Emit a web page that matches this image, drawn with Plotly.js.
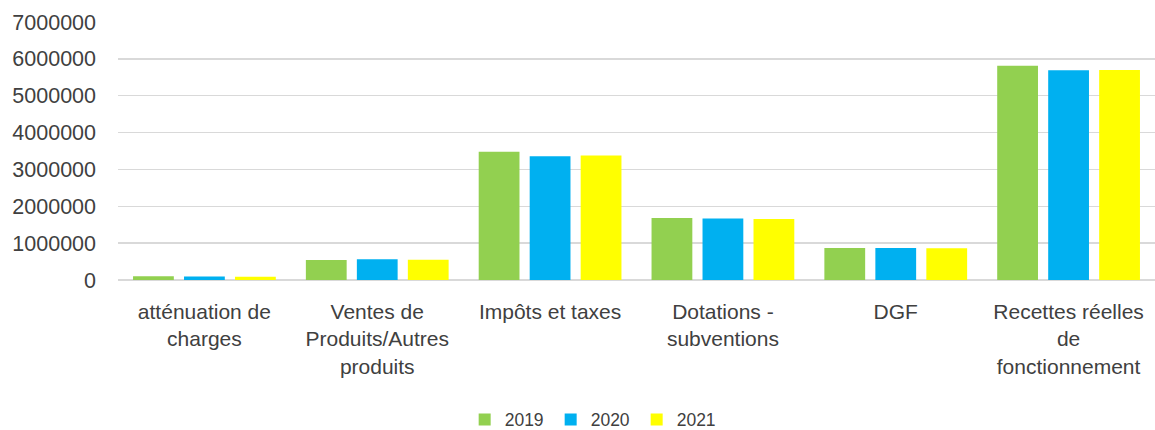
<!DOCTYPE html>
<html>
<head>
<meta charset="utf-8">
<script src="https://cdn.plot.ly/plotly-3.0.1.min.js"></script>
<style>html,body{margin:0;padding:0;background:#fff;}#chart{width:1155px;height:430px;}</style>
</head>
<body>
<div id="chart"></div>
<script>
const categories = [
  "atténuation de<br>charges",
  "Ventes de<br>Produits/Autres<br>produits",
  "Impôts et taxes",
  "Dotations -<br>subventions",
  "DGF",
  "Recettes réelles<br>de<br>fonctionnement"
];
const seriesNames = ["2019", "2020", "2021"];
const values2019 = [100000, 545000, 3480000, 1680000, 870000, 5810000];
const values2020 = [95000, 560000, 3360000, 1670000, 870000, 5690000];
const values2021 = [90000, 550000, 3380000, 1655000, 860000, 5700000];
const yTicks = [0, 1000000, 2000000, 3000000, 4000000, 5000000, 6000000, 7000000];
const colors = ["#92D050", "#00B0F0", "#FFFF00"];

const allValues = [values2019, values2020, values2021];
const traces = allValues.map((v, i) => ({
  type: "bar",
  name: seriesNames[i],
  x: categories,
  y: v,
  marker: {color: colors[i]},
  hoverinfo: "none"
}));

const fam = "Liberation Sans, Arial, sans-serif";

const layout = {
  width: 1155,
  height: 430,
  margin: {l: 118, r: 0, t: 22, b: 150, autoexpand: false},
  paper_bgcolor: "#fff",
  plot_bgcolor: "#fff",
  barmode: "group",
  bargap: 0.115,
  bargroupgap: 0.2,
  font: {family: fam, color: "#404040"},
  showlegend: true,
  legend: {
    orientation: "h",
    xref: "container",
    x: 0.514, xanchor: "center",
    yref: "container",
    y: 0.024, yanchor: "middle",
    font: {family: fam, color: "#404040", size: 17.5},
    itemwidth: 30,
    entrywidth: 41,
    entrywidthmode: "pixels",
    traceorder: "normal"
  },
  xaxis: {
    type: "category",
    automargin: false,
    showgrid: false,
    showline: false,
    zeroline: false,
    ticks: "",
    tickfont: {family: fam, color: "#404040", size: 21},
    ticklabelstandoff: 17,
    fixedrange: true
  },
  yaxis: {
    automargin: false,
    range: [0, 7000000],
    tickmode: "array",
    tickvals: yTicks,
    ticktext: yTicks.map(String),
    showgrid: true,
    gridcolor: "#D9D9D9",
    gridwidth: 1.5,
    zeroline: true,
    zerolinecolor: "#D9D9D9",
    zerolinewidth: 1.5,
    showline: false,
    ticks: "",
    tickfont: {family: fam, color: "#404040", size: 21.5},
    ticklabelstandoff: 21,
    fixedrange: true
  }
};

Plotly.newPlot("chart", traces, layout, {displayModeBar: false, staticPlot: true});
</script>
</body>
</html>
